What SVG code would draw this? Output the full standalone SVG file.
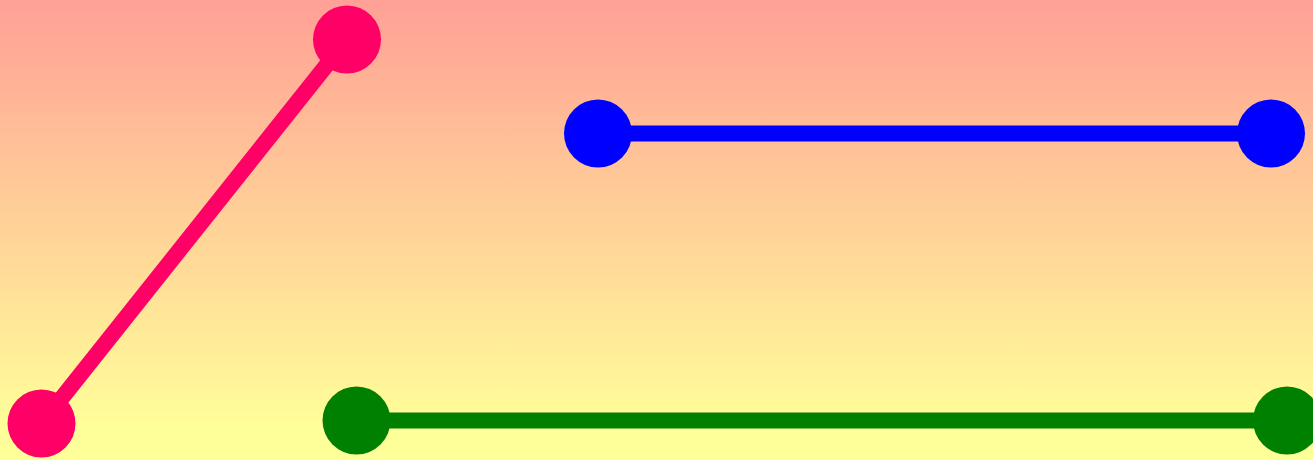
<svg xmlns="http://www.w3.org/2000/svg" width="1313" height="460" viewBox="0 0 1313 460">
<defs>
<linearGradient id="bg" x1="0" y1="0" x2="0" y2="1">
<stop offset="0" stop-color="#ffa096"/>
<stop offset="0.93" stop-color="#ffff99"/>
<stop offset="1" stop-color="#ffff99"/>
</linearGradient>
</defs>
<style>
.pink{fill:#ff0066}
.blue{fill:#0000ff}
.green{fill:#008000}
.conn line{stroke-width:16;stroke-linecap:butt}
</style>
<rect x="0" y="0" width="1313" height="460" fill="url(#bg)"/>
<g id="connectors" class="conn">
<line x1="347" y1="39.5" x2="41.5" y2="423.5" stroke="#ff0066"/>
<line x1="598" y1="133.5" x2="1271" y2="133.5" stroke="#0000ff"/>
<line x1="356.5" y1="420.5" x2="1287" y2="420.5" stroke="#008000"/>
</g>
<g id="node-pink-top"><circle class="pink" cx="347" cy="39.5" r="34"/></g>
<g id="node-pink-bottom"><circle class="pink" cx="41.5" cy="423.5" r="34"/></g>
<g id="node-blue-left"><circle class="blue" cx="598" cy="133.5" r="34"/></g>
<g id="node-blue-right"><circle class="blue" cx="1271" cy="133.5" r="34"/></g>
<g id="node-green-left"><circle class="green" cx="356.5" cy="420.5" r="34"/></g>
<g id="node-green-right"><circle class="green" cx="1287" cy="420.5" r="34"/></g>
</svg>
